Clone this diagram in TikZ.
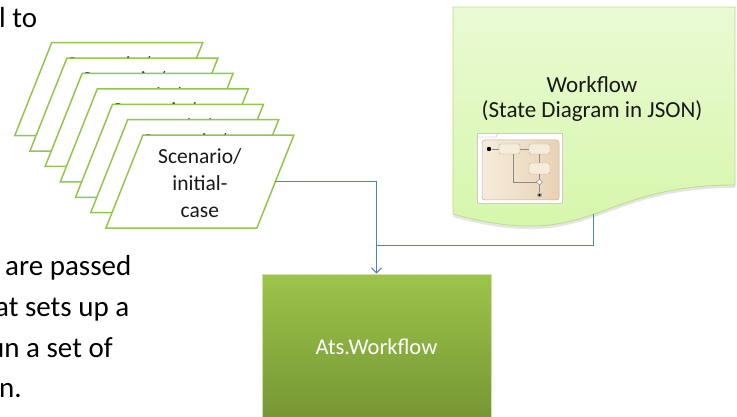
\documentclass[tikz,border=0pt]{standalone}
\usepackage{fontspec}
\setmainfont{Carlito}
\usetikzlibrary{arrows.meta}
\definecolor{cardgreen}{RGB}{146,198,78}
\definecolor{conblue}{RGB}{79,129,189}
\definecolor{docTop}{RGB}{234,250,212}
\definecolor{docBot}{RGB}{212,246,166}
\definecolor{docEdge}{RGB}{186,222,136}
\definecolor{atsTop}{RGB}{157,196,74}
\definecolor{atsBot}{RGB}{118,150,52}
\definecolor{atsEdge}{RGB}{205,225,170}
\definecolor{beigeL}{RGB}{246,236,220}
\definecolor{beigeR}{RGB}{232,210,180}
\definecolor{beigeEdge}{RGB}{196,176,146}
\begin{document}
\begin{tikzpicture}[x=1pt,y=-1pt,
  card/.style={draw=cardgreen, line width=1.5pt, fill=white, line join=miter},
  cardtext/.style={font=\fontsize{21.5}{27}\selectfont, align=center, inner sep=0pt, text=black!90},
  doctext/.style={font=\fontsize{23}{25}\selectfont, align=center, inner sep=0pt, text=black!90},
  sidetext/.style={font=\fontsize{29}{35}\selectfont, anchor=base west, inner sep=0pt, text=black},
  atsbox/.style={draw=atsEdge, line width=0.8pt, top color=atsTop, bottom color=atsBot,
     minimum width=229pt, minimum height=146pt, inner sep=0pt, text=white,
     font=\fontsize{22.5}{27}\selectfont},
  conn/.style={draw=conblue, line width=1pt},
  tbox/.style={draw=beigeEdge, fill=beigeL, rounded corners=2pt, line width=0.4pt},
  tline/.style={draw=black!45, line width=0.4pt}]
\useasboundingbox (0,0) rectangle (737,417);
\clip (0,0) rectangle (737,417);

% left side text
\node[sidetext] (t0) at (-1,28) {l to};
\node[sidetext] (t1) at (5,275) {are passed};
\node[sidetext] (t2) at (-5,316) {at sets up a};
\node[sidetext] (t3) at (-11,357) {un a set of};
\node[sidetext] (t4) at (-1,397) {n.};

% stacked scenario cards
\foreach \i in {0,...,6} {
  \pgfmathsetmacro\tx{51.7+15.2*\i}
  \pgfmathsetmacro\ty{42.7+15.4*\i}
  \path[card] (\tx,\ty) -- ++(151,0) -- ++(-37,93) -- ++(-151,0) -- cycle;
  \node[cardtext] (card\i) at (\tx+57,\ty+48.5) {Scenario/\\initial-\\case};
}
\coordinate (cardout) at (275.4,181.6);

% workflow document
\fill[black, opacity=0.10] (453,10) -- (735,10) -- (735,188) .. controls (594,188) and (594,256) .. (453,217) -- cycle;
\path[draw=docEdge, line width=0.8pt, top color=docTop, bottom color=docBot]
  (453,7) -- (735,7) -- (735,185) .. controls (594,185) and (594,253) .. (453,214) -- cycle;
\node[doctext] (wf) at (592,98.5) {Workflow\\(State Diagram in JSON)};
\coordinate (docbot) at (593,214);

% thumbnail of state diagram
\draw[draw=black!20, fill=white, line width=0.4pt] (477,133) rectangle (562,203);
\draw[draw=black!35, line width=0.3pt] (477,137) -- (496,137) -- (498,133);
\draw[draw=beigeEdge, left color=beigeL, right color=beigeR, rounded corners=3pt, line width=0.5pt] (482,140) rectangle (559,200);
\draw[tbox] (499,144) rectangle (520,154);
\draw[tbox] (529,144) rectangle (550,154);
\draw[tbox] (529,163) rectangle (550,174);
\fill[black] (489,149) circle (2.2);
\draw[tline] (491.5,149) -- (499,149);
\draw[tline] (520,149) -- (529,149);
\draw[tline] (539.5,154) -- (539.5,163);
\draw[tline] (539.5,174) -- (539.5,179);
\draw[tline, fill=white] (539.5,179) -- (542.5,182) -- (539.5,185) -- (536.5,182) -- cycle;
\draw[tline] (536.5,182) -- (513,182) -- (513,154);
\draw[tline] (539.5,185) -- (539.5,192.5);
\draw[tline] (539.5,195) circle (2.2);
\fill[black] (539.5,195) circle (1.4);

% Ats.Workflow box
\node[atsbox] (ats) at (376.5,347) {Ats.Workflow};
\coordinate (join) at (ats.north |- 0,245);

% connectors
\draw[conn, -{Straight Barb[length=5pt,width=10pt]}] (cardout) -| (ats.north);
\draw[conn] (docbot) |- (join);
\end{tikzpicture}
\end{document}
